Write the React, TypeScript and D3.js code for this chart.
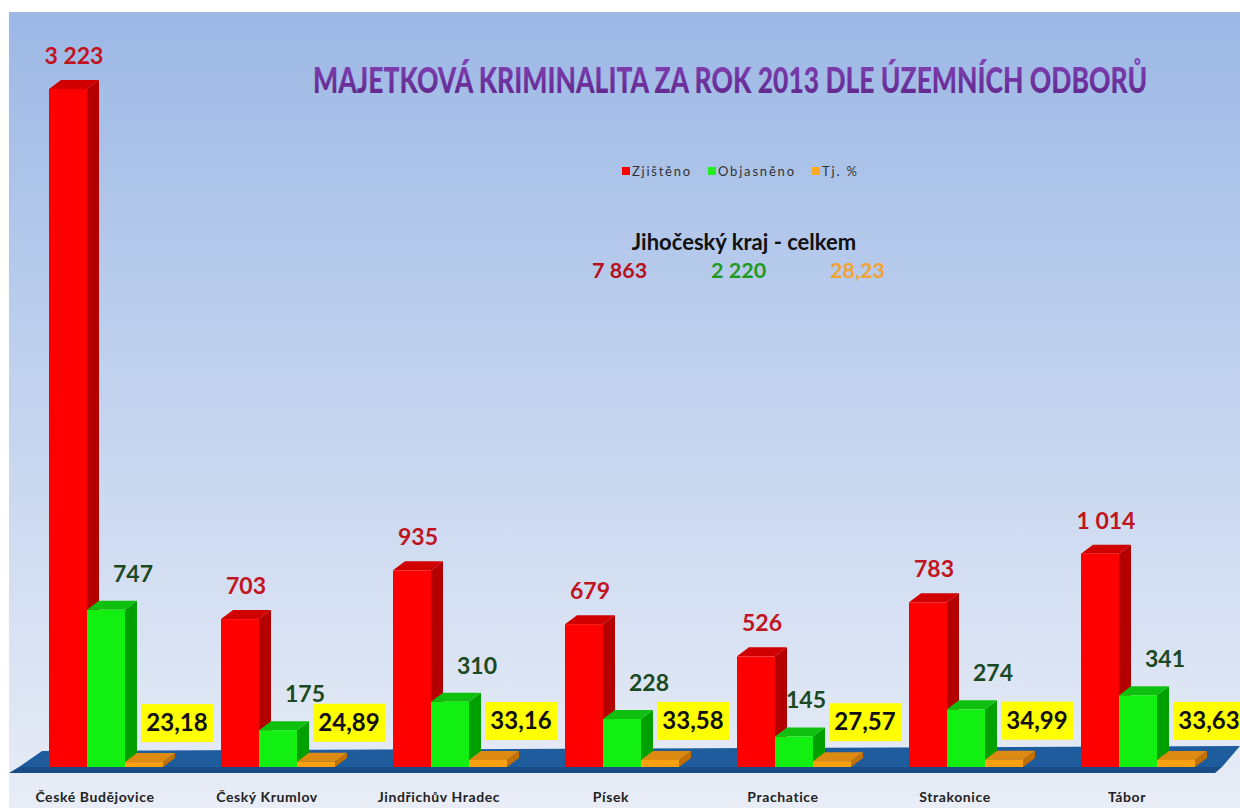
import * as d3 from "d3";
import { useLayoutEffect, useRef } from "react";

// chart values
const categories = ["České Budějovice", "Český Krumlov", "Jindřichův Hradec", "Písek", "Prachatice", "Strakonice", "Tábor"];
const seriesKeys = ["Zjištěno", "Objasněno", "Tj. %"];
const zjisteno = [3223, 703, 935, 679, 526, 783, 1014];
const objasneno = [747, 175, 310, 228, 145, 274, 341];
const tjPercent = [23.18, 24.89, 33.16, 33.58, 27.57, 34.99, 33.63];
const totals = [7863, 2220, 28.23];

const W = 1240;
const H = 808;
const DX = 12; // bar depth
const DY = 9;
const TITLE_W = 834;

const cz = d3.formatLocale({ decimal: ",", thousands: " ", grouping: [3], currency: ["", ""] });
const fmtInt = cz.format(",d");
const fmtDec = cz.format(",.2f");

const palette = [
  { front: "#ff0000", top: "#d00000", side: "#b40000" },
  { front: "#11f011", top: "#10c010", side: "#00a000" },
  { front: "#ffa010", top: "#dc8a12", side: "#c27000" },
];
const legendColors = ["#ff0000", "#22ee22", "#ffa820"];

const FONT = "Lato, 'Open Sans', sans-serif";

function Bar3D({ x, y, w, base, c }: { x: number; y: number; w: number; base: number; c: typeof palette[0] }) {
  const h = Math.max(base - y, 0);
  return (
    <g>
      <polygon
        points={`${x + w},${y} ${x + w + DX},${y - DY} ${x + w + DX},${base - DY} ${x + w},${base}`}
        fill={c.side}
      />
      <polygon points={`${x},${y} ${x + DX},${y - DY} ${x + w + DX},${y - DY} ${x + w},${y}`} fill={c.top} />
      <rect x={x} y={y} width={w} height={h} fill={c.front} />
    </g>
  );
}

export default function App() {
  const titleRef = useRef<SVGTextElement>(null);

  // squeeze the title horizontally so it spans the same width as the original
  useLayoutEffect(() => {
    const t = titleRef.current;
    if (!t) return;
    const len = t.getComputedTextLength();
    if (len > 0) d3.select(t).attr("transform", `translate(313,93) scale(${TITLE_W / len},1)`);
  }, []);

  const x = d3.scaleBand<string>().domain(categories).range([49, 49 + 7 * 172]);
  const sub = d3.scaleBand<string>().domain(seriesKeys).range([0, 114]);
  const base = 767;
  const y = d3.scaleLinear().domain([0, 3500]).range([base, base - (3500 * 678) / 3223]);
  const bw = sub.bandwidth();

  const seriesValues = [zjisteno, objasneno, tjPercent];
  const legendX = [622, 708, 812];
  const legendLen = [58, 76, 35];

  return (
    <svg width={W} height={H} style={{ position: "fixed", left: 0, top: 0, background: "#fff" }} fontFamily={FONT}>
      <defs>
        <linearGradient id="bg" x1="0" y1="0" x2="0" y2="1">
          <stop offset="0" stopColor="#9cb8e5" />
          <stop offset="0.45" stopColor="#c0d1ee" />
          <stop offset="1" stopColor="#e8edf6" />
        </linearGradient>
        <linearGradient id="titleFill" x1="0" y1="0" x2="0" y2="1">
          <stop offset="0" stopColor="#8444b6" />
          <stop offset="1" stopColor="#5c2488" />
        </linearGradient>
      </defs>

      <rect x={9} y={12} width={W - 9} height={H - 12} fill="url(#bg)" />

      {/* title */}
      <text
        ref={titleRef}
        x={0}
        y={0}
        transform="translate(313,93) scale(0.85,1)"
        fontSize={36}
        fontWeight={900}
        fill="url(#titleFill)"
      >
        MAJETKOVÁ KRIMINALITA ZA ROK 2013 DLE ÚZEMNÍCH ODBORŮ
      </text>

      {/* legend */}
      <g fontSize={13} fill="#333">
        {seriesKeys.map((k, i) => (
          <g key={k}>
            <rect x={legendX[i]} y={167} width={8} height={8} fill={legendColors[i]} />
            <text x={legendX[i] + 10} y={176} textLength={legendLen[i]} lengthAdjust="spacing">
              {k}
            </text>
          </g>
        ))}
      </g>

      {/* totals */}
      <text x={744} y={250} textAnchor="middle" fontSize={22} fontWeight={700} fill="#111">
        Jihočeský kraj - celkem
      </text>
      <g fontSize={21.5} fontWeight={700}>
        <text x={592} y={278} fill="#b8101c">
          {fmtInt(totals[0])}
        </text>
        <text x={711} y={278} fill="#1f9a1f">
          {fmtInt(totals[1])}
        </text>
        <text x={830} y={278} fill="#f2a233">
          {fmtDec(totals[2])}
        </text>
      </g>

      {/* floor */}
      <polygon points={`42,751 1240,746 1222,767 19,767`} fill="#1f5c9e" />
      <polygon points={`19,767 1222,767 1215,773 9,773`} fill="#184c84" />

      {/* bars */}
      {categories.map((cat, ci) => (
        <g key={cat}>
          {seriesKeys.map((k, si) => {
            const bx = (x(cat) ?? 0) + (sub(k) ?? 0);
            return <Bar3D key={k} x={bx} y={y(seriesValues[si][ci])} w={bw} base={base} c={palette[si]} />;
          })}
        </g>
      ))}

      {/* value labels */}
      {categories.map((cat, ci) => {
        const x0 = x(cat) ?? 0;
        const rx = x0 + (sub("Zjištěno") ?? 0);
        const gx = x0 + (sub("Objasněno") ?? 0);
        const ox = x0 + (sub("Tj. %") ?? 0);
        const oy = y(tjPercent[ci]);
        const boxLeft = ox + 52 - 36;
        const gy = y(objasneno[ci]) - 28;
        // keep the green label clear of the yellow box when it drops low
        const gLabelX = gy > oy - 58 ? Math.min(gx + 46, boxLeft - 23) : gx + 46;
        return (
          <g key={cat} fontWeight={700} fontSize={23} textAnchor="middle">
            <text x={rx + bw / 2 + DX / 2} y={y(zjisteno[ci]) - 25} fill="#c0141e">
              {fmtInt(zjisteno[ci])}
            </text>
            <text x={gLabelX} y={gy} fill="#1b4a22">
              {fmtInt(objasneno[ci])}
            </text>
            <rect x={boxLeft} y={oy - 39 - 19} width={72} height={38} fill="#ffff00" />
            <text x={ox + 52} y={oy - 39 + 8} fill="#111" fontSize={24}>
              {fmtDec(tjPercent[ci])}
            </text>
          </g>
        );
      })}

      {/* category labels */}
      {categories.map((cat) => (
        <text
          key={cat}
          x={(x(cat) ?? 0) + 46}
          y={802}
          textAnchor="middle"
          fontSize={14}
          fontWeight={700}
          letterSpacing={0.6}
          fill="#222"
        >
          {cat}
        </text>
      ))}
    </svg>
  );
}
